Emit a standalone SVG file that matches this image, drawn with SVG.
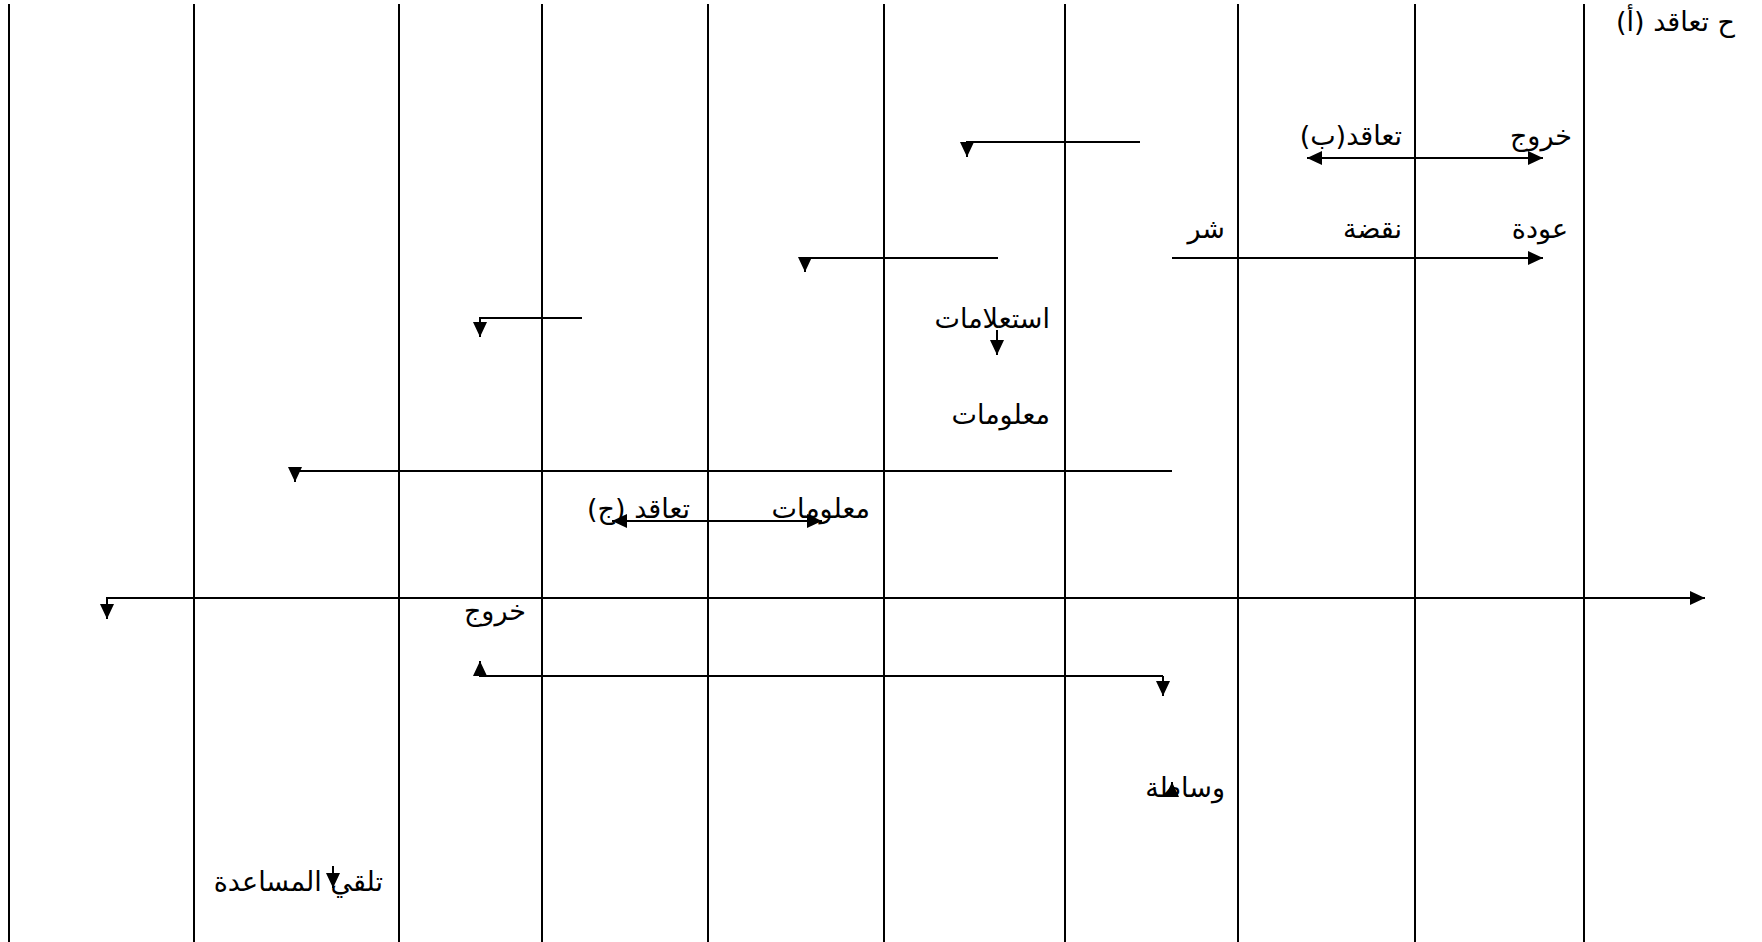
<svg xmlns="http://www.w3.org/2000/svg" width="1762" height="942" viewBox="0 0 1762 942">
<style>
.v{stroke:#000;stroke-width:2;fill:none}
.c{stroke:#000;stroke-width:2;fill:none}
.t{font-family:"DejaVu Sans","Liberation Sans",sans-serif;font-size:27px;fill:#000;direction:rtl;unicode-bidi:embed;text-anchor:start}
</style>
<defs>
<marker id="ah" markerUnits="userSpaceOnUse" markerWidth="16" markerHeight="16" refX="15" refY="7" orient="auto"><path d="M0,0 L15,7 L0,14 z" fill="#000"/></marker>
<marker id="as" markerUnits="userSpaceOnUse" markerWidth="16" markerHeight="16" refX="0" refY="7" orient="auto"><path d="M15,0 L0,7 L15,14 z" fill="#000"/></marker>
</defs>
<rect width="1762" height="942" fill="#fff"/>
<g id="lanes">
<line class="v" x1="9" y1="4" x2="9" y2="942"/>
<line class="v" x1="194" y1="4" x2="194" y2="942"/>
<line class="v" x1="399" y1="4" x2="399" y2="942"/>
<line class="v" x1="542" y1="4" x2="542" y2="942"/>
<line class="v" x1="708" y1="4" x2="708" y2="942"/>
<line class="v" x1="884" y1="4" x2="884" y2="942"/>
<line class="v" x1="1065" y1="4" x2="1065" y2="942"/>
<line class="v" x1="1238" y1="4" x2="1238" y2="942"/>
<line class="v" x1="1415" y1="4" x2="1415" y2="942"/>
<line class="v" x1="1584" y1="4" x2="1584" y2="942"/>
</g>
<g id="labels">
<text id="n-title" class="t" x="1735" y="31">ح تعاقد (أ)</text>
<text id="n-khuruj1" class="t" x="1572" y="145">خروج</text>
<text id="n-taaqud-b" class="t" x="1402" y="145">تعاقد(ب)</text>
<text id="n-awda" class="t" x="1568" y="238">عودة</text>
<text id="n-naqda" class="t" x="1402" y="238">نقضة</text>
<text id="n-shar" class="t" x="1225" y="238">شر</text>
<text id="n-istilamat" class="t" x="1050" y="328">استعلامات</text>
<text id="n-malumat1" class="t" x="1050" y="424">معلومات</text>
<text id="n-malumat2" class="t" x="870" y="518">معلومات</text>
<text id="n-taaqud-j" class="t" x="690" y="518">تعاقد (ج)</text>
<text id="n-khuruj2" class="t" x="526" y="620">خروج</text>
<text id="n-wasata" class="t" x="1225" y="797">وساطة</text>
<text id="n-talaqqi" class="t" x="383" y="891">تلقي المساعدة</text>
</g>
<g id="connectors">
<path class="c" d="M1140 142 H967 V157" marker-end="url(#ah)"/>
<path class="c" d="M1307 158 H1543" marker-start="url(#as)" marker-end="url(#ah)"/>
<path class="c" d="M998 258 H805 V272" marker-end="url(#ah)"/>
<path class="c" d="M1172 258 H1543" marker-end="url(#ah)"/>
<path class="c" d="M582 318 H480 V337" marker-end="url(#ah)"/>
<path class="c" d="M997 330 V355" marker-end="url(#ah)"/>
<path class="c" d="M1172 471 H295 V482" marker-end="url(#ah)"/>
<path class="c" d="M612 521 H822" marker-start="url(#as)" marker-end="url(#ah)"/>
<path class="c" d="M1705 598 H107 V619" marker-end="url(#ah)"/>
<path class="c" d="M107 598 H1705" marker-end="url(#ah)"/>
<path class="c" d="M1163 676 H480 V661" marker-end="url(#ah)"/>
<path class="c" d="M1163 676 V696" marker-end="url(#ah)"/>
<path class="c" d="M1172 796 V782" marker-end="url(#ah)"/>
<path class="c" d="M333 866 V888" marker-end="url(#ah)"/>
</g>
</svg>
